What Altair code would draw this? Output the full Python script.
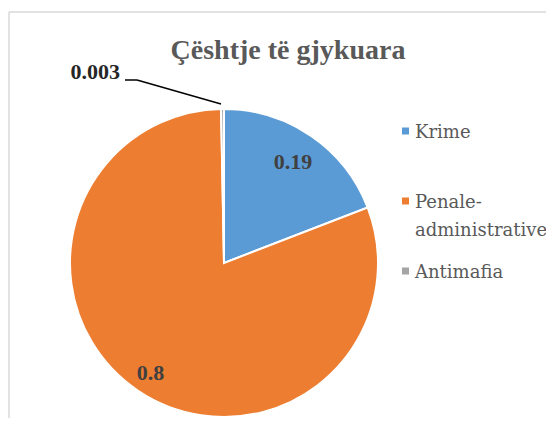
import altair as alt
import pandas as pd

categories = ["Krime", "Penale-administrative", "Antimafia"]
values = [0.19, 0.8, 0.003]
orders = [0, 1, 2]
colors = ["#5B9BD5", "#ED7D31", "#A5A5A5"]

df = pd.DataFrame({"category": categories, "value": values, "ord": orders})

FONT = "Liberation Serif"
LFONT = "DejaVu Serif"
CX, CY, R = 216, 255, 154

color = alt.Color(
    "category:N",
    scale=alt.Scale(domain=categories, range=colors),
    legend=None,
)

base = alt.Chart(df).encode(
    theta=alt.Theta("value:Q", stack=True),
    order=alt.Order("ord:Q"),
)

arcs = base.mark_arc(radius=R, stroke="white", strokeWidth=2).encode(
    x=alt.value(CX), y=alt.value(CY), color=color
)

lab_krime = base.mark_text(
    radius=122, font=FONT, fontSize=22, fontWeight="bold", color="#404040"
).encode(
    x=alt.value(CX), y=alt.value(CY),
    text=alt.condition("datum.category == 'Krime'", alt.Text("value:Q", format="~g"), alt.value("")),
)

lab_pen = base.mark_text(
    radius=132, font=FONT, fontSize=22, fontWeight="bold", color="#404040"
).encode(
    x=alt.value(CX), y=alt.value(CY),
    text=alt.condition("datum.category == 'Penale-administrative'", alt.Text("value:Q", format="~g"), alt.value("")),
)

lab_anti = alt.Chart(df).mark_text(
    font=FONT, fontSize=22, fontWeight="bold", color="#262626", align="right", baseline="middle"
).encode(
    x=alt.value(112), y=alt.value(64),
    text=alt.condition("datum.category == 'Antimafia'", alt.Text("value:Q", format="~g"), alt.value("")),
)

leader1 = alt.Chart(df.head(1)).mark_rule(color="black", strokeWidth=1.5).encode(
    x=alt.value(117), x2=alt.value(129), y=alt.value(72), y2=alt.value(72)
)
leader2 = alt.Chart(df.head(1)).mark_rule(color="black", strokeWidth=1.5).encode(
    x=alt.value(129), x2=alt.value(213), y=alt.value(72), y2=alt.value(96)
)

border_l = alt.Chart(df.head(1)).mark_rule(color="#D9D9D9", strokeWidth=1.5).encode(
    x=alt.value(1), x2=alt.value(1), y=alt.value(4), y2=alt.value(420)
)
border_t = alt.Chart(df.head(1)).mark_rule(color="#D9D9D9", strokeWidth=1.5).encode(
    x=alt.value(1), x2=alt.value(540), y=alt.value(4), y2=alt.value(4)
)

title = alt.Chart(df.head(1)).mark_text(
    text="Çështje të gjykuara", font=FONT, fontSize=28, fontWeight="bold",
    color="#595959", align="center", baseline="alphabetic"
).encode(x=alt.value(280), y=alt.value(51))

# legend built from the same colour scale
leg_y = alt.Y("category:N", scale=alt.Scale(domain=categories, type="point", range=[123, 263], padding=0), axis=None)

leg_sym = alt.Chart(df).mark_square(size=49, opacity=1).encode(
    x=alt.value(397.5), y=leg_y, color=color
)
leg_txt = alt.Chart(df).transform_calculate(
    lbl="split(replace(datum.category, '-', '-|'), '|')"
).mark_text(
    font=LFONT, fontSize=18, color="#595959", align="left", baseline="alphabetic",
    dy=7, lineHeight=28
).encode(
    x=alt.value(407), y=leg_y, text="lbl:N"
)

chart = alt.layer(
    border_l, border_t, arcs, lab_krime, lab_pen, lab_anti, leader1, leader2, title,
    leg_sym, leg_txt
).properties(
    width=538, height=410,
    autosize=alt.AutoSizeParams(type="none"),
    padding=0,
).configure_view(stroke=None)

chart.save("out.html", embed_options={"renderer": "svg", "actions": False})
